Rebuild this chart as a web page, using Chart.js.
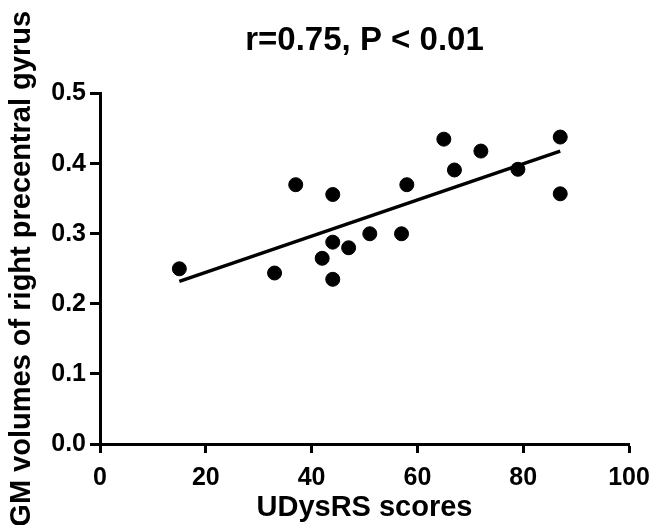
<!DOCTYPE html>
<html lang="en">
<head>
    <meta charset="UTF-8">
    <title>r=0.75, P &lt; 0.01</title>
    <script src="https://cdn.jsdelivr.net/npm/chart.js"></script>
    <style>
        body { margin: 0; background: #fff; }
    </style>
</head>
<body>
    <canvas id="corrChart" width="649" height="525"></canvas>
    <script>
        // values
        const udysrsScores = [15, 33, 37, 42, 44, 44, 44, 47, 51, 57, 58, 65, 67, 72, 79, 87, 87];
        const gmVolumes = [0.250, 0.244, 0.370, 0.265, 0.356, 0.288, 0.235, 0.280, 0.300, 0.300, 0.370, 0.435, 0.391, 0.418, 0.392, 0.438, 0.357];
        const fitX = [15, 87];
        const fitY = [0.232, 0.418];
        const xTicks = [0, 20, 40, 60, 80, 100];
        const yTicks = [0.0, 0.1, 0.2, 0.3, 0.4, 0.5];

        const fontFamily = '"Liberation Sans", Arial, sans-serif';

        const ctx = document.getElementById('corrChart').getContext('2d');
        new Chart(ctx, {
            type: 'scatter',
            data: {
                datasets: [{
                    label: 'Subjects',
                    data: udysrsScores.map((x, i) => ({x: x, y: gmVolumes[i]})),
                    backgroundColor: '#000',
                    borderColor: '#000',
                    pointRadius: 7,
                    pointHoverRadius: 7,
                }, {
                    type: 'line',
                    label: 'Linear fit',
                    data: fitX.map((x, i) => ({x: x, y: fitY[i]})),
                    borderColor: '#000',
                    borderWidth: 3.5,
                    pointRadius: 0,
                    fill: false,
                }]
            },
            options: {
                responsive: false,
                animation: false,
                devicePixelRatio: 1,
                layout: {
                    padding: {left: 0, right: 20, top: 0, bottom: 0}
                },
                plugins: {
                    legend: { display: false },
                    tooltip: { enabled: false },
                    title: {
                        display: true,
                        fullSize: false, // center over the plot area, not the canvas
                        text: 'r=0.75, P < 0.01',
                        color: '#000',
                        font: { family: fontFamily, size: 33, weight: 'bold' },
                        padding: { top: 21, bottom: 33 }
                    }
                },
                scales: {
                    x: {
                        type: 'linear',
                        min: 0,
                        max: 100,
                        afterBuildTicks: (scale) => {
                            scale.ticks = xTicks.map(v => ({value: v}));
                        },
                        afterFit: (scale) => {
                            scale.height = 81;
                            scale.paddingLeft = 0;
                            scale.paddingRight = 0;
                        },
                        border: { display: true, color: '#000', width: 3 },
                        grid: {
                            drawOnChartArea: false,
                            drawTicks: true,
                            tickLength: 9,
                            tickWidth: 3,
                            tickColor: '#000'
                        },
                        ticks: {
                            color: '#000',
                            padding: 10,
                            maxRotation: 0,
                            font: { family: fontFamily, size: 25, weight: 'bold' }
                        },
                        title: {
                            display: true,
                            text: 'UDysRS scores',
                            color: '#000',
                            font: { family: fontFamily, size: 29, weight: 'bold' },
                            padding: 0
                        }
                    },
                    y: {
                        type: 'linear',
                        min: 0,
                        max: 0.5,
                        afterBuildTicks: (scale) => {
                            scale.ticks = yTicks.map(v => ({value: v}));
                        },
                        afterFit: (scale) => {
                            scale.width = 100;
                            scale.paddingTop = 0;
                            scale.paddingBottom = 0;
                        },
                        border: { display: true, color: '#000', width: 3 },
                        grid: {
                            drawOnChartArea: false,
                            drawTicks: true,
                            tickLength: 10,
                            tickWidth: 3,
                            tickColor: '#000'
                        },
                        ticks: {
                            color: '#000',
                            padding: 4,
                            font: { family: fontFamily, size: 25, weight: 'bold' },
                            callback: (value) => value.toFixed(1)
                        },
                        title: {
                            display: true,
                            text: 'GM volumes of right precentral gyrus',
                            color: '#000',
                            font: { family: fontFamily, size: 29, weight: 'bold' },
                            padding: { top: 5, bottom: 0 }
                        }
                    }
                }
            }
        });
    </script>
</body>
</html>
